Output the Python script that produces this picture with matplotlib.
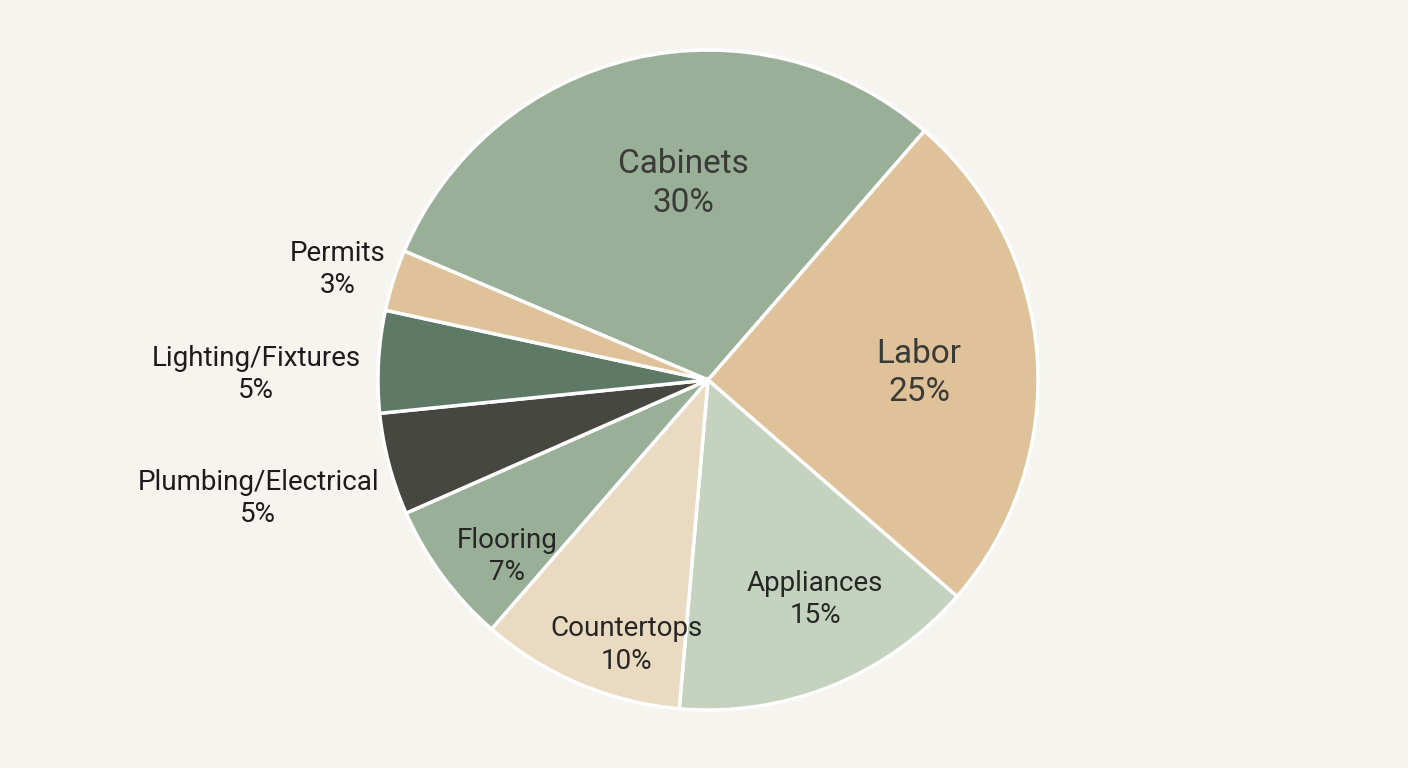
import matplotlib
matplotlib.use("Agg")
import matplotlib.pyplot as plt
import numpy as np

categories = ["Cabinets", "Labor", "Appliances", "Countertops", "Flooring",
              "Plumbing/Electrical", "Lighting/Fixtures", "Permits"]
values = [30, 25, 15, 10, 7, 5, 5, 3]
colors = ["#9AAF98", "#DFC29A", "#C4D2BF", "#EBDAC2", "#9AAF98",
          "#464740", "#5F7967", "#DFC29A"]
label_radius = [0.60, 0.64, 0.74, 0.84, 0.81, 1.41, 1.37, 1.17]
label_nudge = [-6, -2, 4, 6, 5, 0, 2.5, 1]   # degrees
label_size = [24, 24, 20, 20, 20, 20, 20, 20]
label_color = ["#3a3a36", "#3a3a36", "#262624", "#262624", "#262624",
               "#1c1c1c", "#1c1c1c", "#1c1c1c"]

bg = "#F5F4EF"
plt.rcParams['font.family'] = ['Roboto', 'DejaVu Sans']

fig = plt.figure(figsize=(14.08, 7.68), dpi=100, facecolor=bg)
ax = fig.add_axes([0, 0, 1, 1])
ax.set_facecolor(bg)

wedges, _ = ax.pie(values, startangle=157, counterclock=False, colors=colors,
                   radius=1.0, center=(0, 0),
                   wedgeprops=dict(edgecolor="white", linewidth=2.5))

for w, cat, v, r, nd, fs, c in zip(wedges, categories, values, label_radius,
                                   label_nudge, label_size, label_color):
    mid = np.deg2rad((w.theta1 + w.theta2) / 2 + nd)
    ax.text(r * np.cos(mid), r * np.sin(mid), f"{cat}\n{v}%", ha="center", va="center",
            fontsize=fs, color=c, linespacing=1.25)

px = 330.0
cx, cy = 708.0, 380.0
ax.set_xlim(-cx / px, (1408 - cx) / px)
ax.set_ylim(-(768 - cy) / px, cy / px)
ax.set_aspect("equal", adjustable="box")
ax.axis("off")

fig.savefig("out.png", dpi=100, facecolor=bg)
